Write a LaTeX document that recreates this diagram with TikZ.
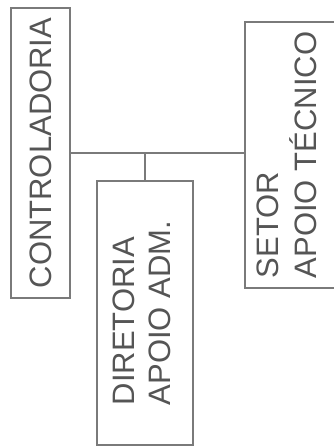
\documentclass[tikz,border=0pt]{standalone}
\usepackage{fontspec}
\setmainfont{Liberation Sans}
\definecolor{boxgray}{HTML}{7A7A7A}
\definecolor{textgray}{HTML}{555555}
\begin{document}
\begin{tikzpicture}[x=1pt,y=-1pt,line width=1.2pt,
		unit/.style={draw=boxgray,rectangle,inner sep=0pt,text=textgray,font=\fontsize{31}{36}\selectfont}]
		\useasboundingbox (0,0) rectangle (334,448);
		\node (ctrl) at (40.5,153) [unit,minimum width=59pt,minimum height=290pt] {\rotatebox{90}{CONTROLADORIA}};
		\node (dir) at (145,313) [unit,minimum width=96pt,minimum height=264pt] {\rotatebox{90}{\begin{tabular}{@{}l@{}}DIRETORIA\\APOIO ADM.\end{tabular}}};
		\node (setor) at (290,155) [unit,minimum width=90pt,minimum height=266pt] {\rotatebox{90}{\begin{tabular}{@{}l@{}}SETOR\\APOIO TÉCNICO\end{tabular}}};
		\draw[boxgray] (ctrl.east)--(ctrl.east -| setor.west);
		\draw[boxgray] (dir.north)--(dir.north |- ctrl.east);
	\end{tikzpicture}
\end{document}
